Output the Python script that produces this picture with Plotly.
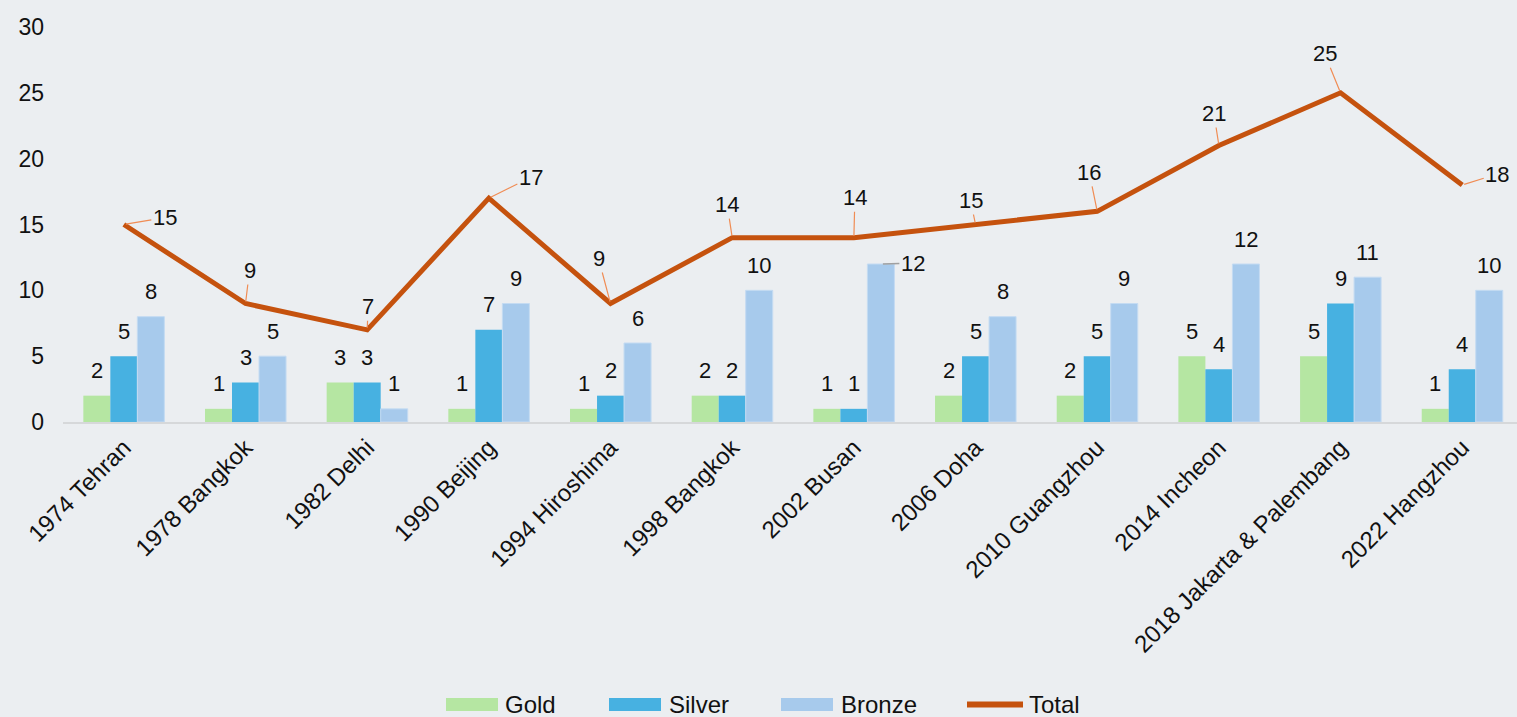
import plotly.graph_objects as go

categories = ["1974 Tehran", "1978 Bangkok", "1982 Delhi", "1990 Beijing", "1994 Hiroshima",
              "1998 Bangkok", "2002 Busan", "2006 Doha", "2010 Guangzhou", "2014 Incheon",
              "2018 Jakarta & Palembang", "2022 Hangzhou"]
gold = [2, 1, 3, 1, 1, 2, 1, 2, 2, 5, 5, 1]
silver = [5, 3, 3, 7, 2, 2, 1, 5, 5, 4, 9, 4]
bronze = [8, 5, 1, 9, 6, 10, 12, 8, 9, 12, 11, 10]
total = [15, 9, 7, 17, 9, 14, 14, 15, 16, 21, 25, 18]
series_names = ["Gold", "Silver", "Bronze", "Total"]

# label offsets (pixels) for Total data labels
total_ax = [41, 4, 1, 42, -12, -5, 1, -5, -8, -5, -16, 35]
total_ay = [-7, -33, -23, -21, -45, -33, -40, -24, -39, -32, -39, -11]

FONT = "Arial, Liberation Sans, sans-serif"
BG = "#EBEEF1"
C_GOLD, C_SILVER, C_BRONZE, C_TOTAL = "#B5E6A2", "#47B1E1", "#A7CAEC", "#C5520E"

W, H = 1517, 717
ML, MR, MT, MB = 63, 0, 27, 295
PW, PH = W - ML - MR, H - MT - MB


def px_x(px):
    return (px - ML) / PW


def px_y(py):
    return (H - MB - py) / PH


fig = go.Figure()
fig.add_bar(name="Gold", x=categories, y=gold, marker_color=C_GOLD,
            marker_line_width=0, showlegend=False)
fig.add_bar(name="Silver", x=categories, y=silver, marker_color=C_SILVER,
            marker_line_width=0, showlegend=False)
fig.add_bar(name="Bronze", x=categories, y=bronze, marker_color=C_BRONZE,
            marker_line=dict(color="#C4DBF2", width=1), showlegend=False)
fig.add_scatter(name="Total", x=categories, y=total, mode="lines",
                line=dict(color=C_TOTAL, width=5), cliponaxis=False, showlegend=False)

annotations = []
LBL = dict(size=22, color="#111111", family=FONT)
for series, shift in ((gold, -27), (silver, 0), (bronze, 27)):
    for c, v in zip(categories, series):
        if series is bronze and c == "2002 Busan":
            annotations.append(dict(x=c, y=v, xref="x", yref="y", text=str(v),
                                    showarrow=True, arrowhead=0, arrowwidth=1.5,
                                    arrowcolor="#A0A0A0", ax=32, ay=-1, standoff=2,
                                    xshift=shift, font=LBL))
            continue
        annotations.append(dict(x=c, y=v, xref="x", yref="y", text=str(v),
                                showarrow=False, xshift=shift, yshift=25,
                                yanchor="middle", font=LBL))

for c, v, ax, ay in zip(categories, total, total_ax, total_ay):
    annotations.append(dict(x=c, y=v, xref="x", yref="y", text=str(v),
                            showarrow=True, arrowhead=0, arrowwidth=1.2,
                            arrowcolor="#F08C54", ax=ax, ay=ay, standoff=2,
                            font=LBL))

# custom legend (Excel style wide swatches)
legend_swatch_x = [(446, 498), (609, 661), (781, 833), (967, 1023)]
legend_text_x = [503, 667, 839, 1027]
legend_colors = [C_GOLD, C_SILVER, C_BRONZE, C_TOTAL]
shapes = []
LEG_Y = 704.5
for i, name in enumerate(series_names):
    x0, x1 = legend_swatch_x[i]
    if name == "Total":
        shapes.append(dict(type="line", xref="paper", yref="paper",
                           x0=px_x(x0), x1=px_x(x1), y0=px_y(LEG_Y), y1=px_y(LEG_Y),
                           line=dict(color=legend_colors[i], width=6)))
    else:
        shapes.append(dict(type="rect", xref="paper", yref="paper",
                           x0=px_x(x0), x1=px_x(x1), y0=px_y(LEG_Y - 6.5), y1=px_y(LEG_Y + 6.5),
                           fillcolor=legend_colors[i], line_width=0))
    annotations.append(dict(x=px_x(legend_text_x[i]), y=px_y(LEG_Y), xref="paper", yref="paper",
                            text=name, showarrow=False, xanchor="left", yanchor="middle",
                            font=dict(size=24, color="#111111", family=FONT)))

fig.update_layout(
    width=W, height=H,
    paper_bgcolor=BG, plot_bgcolor=BG,
    margin=dict(l=ML, r=MR, t=MT, b=MB, pad=0),
    barmode="group", bargap=0.334, bargroupgap=0,
    font=dict(family=FONT, size=22, color="#111111"),
    showlegend=False,
    annotations=annotations,
    shapes=shapes,
)
fig.update_xaxes(type="category", range=[-0.5, 11.45], tickangle=-45,
                 showline=True, linecolor="#D6D8DA", linewidth=2,
                 showgrid=False, ticks="", tickfont=dict(size=24, family=FONT, color="#111111"))
fig.update_yaxes(range=[0, 30], dtick=5, showgrid=False, zeroline=False,
                 showline=False, ticks="", ticklabelstandoff=18,
                 tickfont=dict(size=23, family=FONT, color="#111111"))

fig.write_html("out.html", config={"displayModeBar": False},
               post_script="document.body.style.margin='0';document.body.style.overflow='hidden';")
